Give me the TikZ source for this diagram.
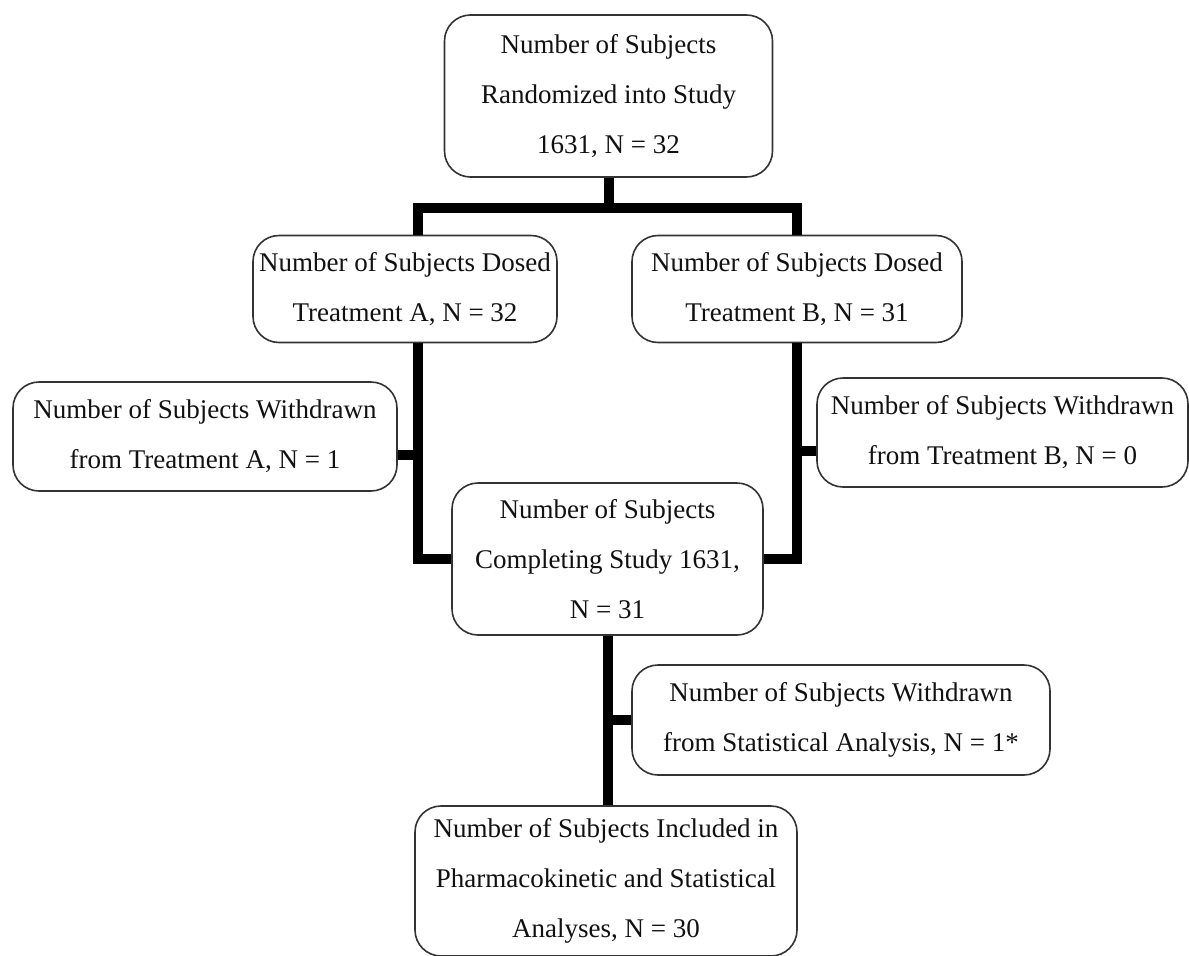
\documentclass[tikz,border=0pt]{standalone}
\usepackage{fontspec}
\setmainfont{Liberation Serif}
\usetikzlibrary{positioning,calc}
\definecolor{ink}{HTML}{111111}
\definecolor{edge}{HTML}{333333}
\tikzset{
  flowbox/.style={rounded corners=26pt,draw=edge,fill=white,line width=1.6pt,
                  inner sep=0pt,align=center,text=ink,font=\fontsize{27}{50}\selectfont},
  link/.style={line width=10pt,draw=black,line join=miter}
}

\begin{document}
\begin{tikzpicture}[x=1pt,y=-1pt]
        \useasboundingbox (0,0) rectangle (1189,956);
        \node[flowbox,minimum width=328pt,minimum height=162pt] (rand) at (608.5,96) {Number of Subjects\\Randomized into Study\\1631, N = 32};
        \node[flowbox,minimum width=304pt,minimum height=107pt] (dosA) at (405,289) {Number of Subjects Dosed\\Treatment A, N = 32};
        \node[flowbox,minimum width=330pt,minimum height=107pt] (dosB) at (797,289) {Number of Subjects Dosed\\Treatment B, N = 31};
        \node[flowbox,minimum width=384pt,minimum height=109pt] (wdA) at (205,436.5) {Number of Subjects Withdrawn\\from Treatment A, N = 1};
        \node[flowbox,minimum width=371pt,minimum height=109pt] (wdB) at (1002.5,432.5) {Number of Subjects Withdrawn\\from Treatment B, N = 0};
        \node[flowbox,minimum width=311pt,minimum height=152pt] (done) at (607.5,559) {Number of Subjects\\Completing Study 1631,\\N = 31};
        \node[flowbox,minimum width=418pt,minimum height=110pt] (wdS) at (841,720) {Number of Subjects Withdrawn\\from Statistical Analysis, N = 1*};
        \node[flowbox,minimum width=382pt,minimum height=150pt] (incl) at (606,881) {Number of Subjects Included in\\Pharmacokinetic and Statistical\\Analyses, N = 30};
        % bus lines
        \coordinate (lbus) at (418,208);
        \coordinate (rbus) at (797,208);
        \coordinate (stubA) at (418,455);
        \coordinate (stubB) at (797,451);
        \draw[link] (rand.south) -- (rand.south |- lbus);
        \draw[link] (lbus |- dosA.north) -- (lbus) -- (rbus) -- (rbus |- dosB.north);
        \draw[link] (lbus |- dosA.south) |- (done.west);
        \draw[link] (rbus |- dosB.south) |- (done.east);
        \draw[link] (stubA -| wdA.east) -- (stubA);
        \draw[link] (stubB -| wdB.west) -- (stubB);
        \draw[link] (done.south) -- (done.south |- incl.north);
        \draw[link] (wdS.west) -- (wdS.west -| done.south);
      \end{tikzpicture}
\end{document}
